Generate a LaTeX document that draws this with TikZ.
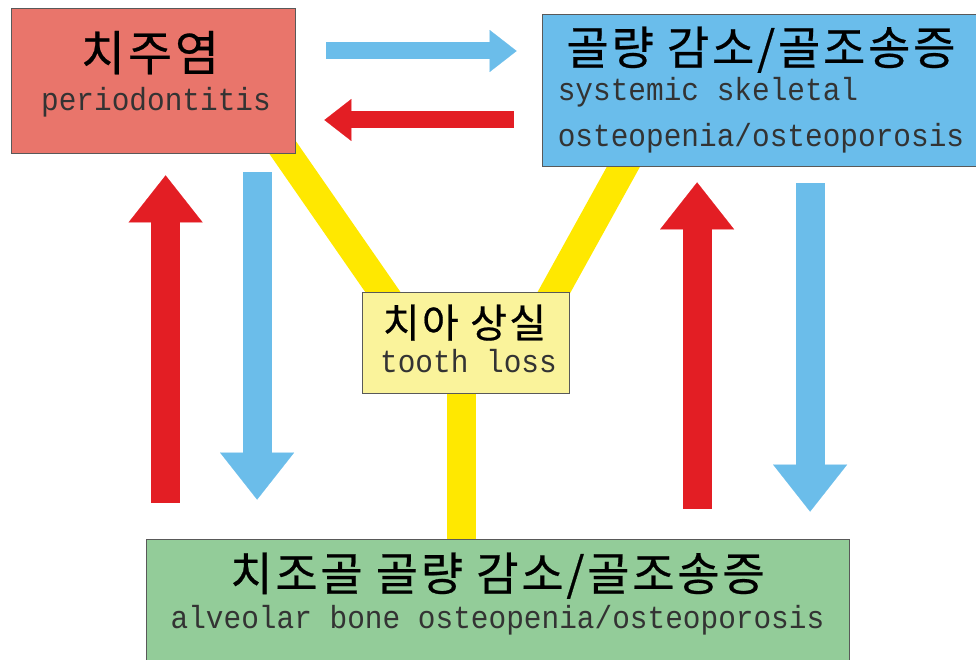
\documentclass[tikz,border=0pt]{standalone}
\usepackage{fontspec}
\usepackage{tikz}
\usetikzlibrary{arrows.meta,calc,backgrounds}
\newfontfamily\kor{Noto Sans CJK KR}[FakeBold=0.5,LetterSpace=6]
\newfontfamily\enmono{Liberation Mono}[FakeStretch=0.92]
\definecolor{cPerio}{HTML}{E9756B}
\definecolor{cSys}{HTML}{6ABDEB}
\definecolor{cTooth}{HTML}{FAF39B}
\definecolor{cAlv}{HTML}{93CC99}
\definecolor{cBand}{HTML}{FFE800}
\definecolor{cRed}{HTML}{E31E24}
\definecolor{cBlue}{HTML}{6BBDEA}

\begin{document}
\begin{tikzpicture}[x=1pt,y=-1pt,
box/.style={draw=black!65,line width=0.8pt,inner sep=0pt},
kr/.style={font=\kor\fontsize{46}{52}\selectfont,anchor=base,inner sep=0pt},
en/.style={font=\enmono\fontsize{32}{36}\selectfont,text=black!80,anchor=base,inner sep=0pt},
band/.style={draw=cBand,line width=29pt},
fat/.style={line width=29pt,-{Triangle[width=74pt,length=47pt,line width=0.1pt]}},
slim/.style={line width=17pt,-{Triangle[width=42pt,length=27pt,line width=0.1pt]}}]
\useasboundingbox (0,0) rectangle (976,660);
\node[box,fill=cPerio,minimum width=284pt,minimum height=145pt] (perio) at (153,80.5) {};
\node[box,fill=cSys,minimum width=438pt,minimum height=152pt] (sys) at (761,90) {};
\node[box,fill=cTooth,minimum width=207pt,minimum height=101pt] (tooth) at (465.5,342.5) {};
\node[box,fill=cAlv,minimum width=703pt,minimum height=141pt] (alv) at (497.5,609.5) {};
% texts
\node[kr,font=\kor\fontsize{48}{54}\selectfont] (perio-kr) at ([xshift=-3pt,yshift=-63pt]perio.north) {치주염};
\node[en] (perio-en) at ([xshift=3pt,yshift=-103pt]perio.north) {periodontitis};
\node[kr] (sys-kr) at ([yshift=-51pt]sys.north) {골량 감소/골조송증};
\node[en,anchor=base west] (sys-en1) at ([xshift=16pt,yshift=-87pt]sys.north west) {systemic skeletal};
\node[en,anchor=base west] (sys-en2) at ([xshift=16pt,yshift=-133pt]sys.north west) {osteopenia/osteoporosis};
\node[kr,font=\kor\fontsize{40}{46}\selectfont] (tooth-kr) at ([xshift=-1pt,yshift=-46pt]tooth.north) {치아 상실};
\node[en] (tooth-en) at ([xshift=3pt,yshift=-81pt]tooth.north) {tooth loss};
\node[kr] (alv-kr) at ([yshift=-52pt]alv.north) {치조골 골량 감소/골조송증};
\node[en] (alv-en) at ([yshift=-90pt]alv.north) {alveolar bone osteopenia/osteoporosis};
% yellow bands behind the boxes
\begin{scope}[on background layer]
\draw[band] ($(perio.south west)+(262.6,-19.5)$) -- ($(tooth.north west)+(32.4,16.5)$);
\draw[band] ($(sys.south west)+(91.7,-17.5)$) -- ($(tooth.north east)+(-24.7,17.5)$);
\draw[band] ([xshift=-4pt]tooth.center) -- ([xshift=-4pt]tooth.center |- alv.center);
\end{scope}
% arrows
\draw[slim,draw=cBlue] ($(perio.east)+(31,-29.5)$) -- ($(sys.west)+(-25,-39)$);
\draw[slim,draw=cRed] ($(sys.west)+(-28,30)$) -- ($(perio.east)+(29,39.5)$);
\draw[fat,draw=cRed] ($(alv.north west)+(20,-36)$) -- ($(perio.south west)+(155,22)$);
\draw[fat,draw=cBlue] ($(perio.south west)+(246.5,19)$) -- ($(alv.north west)+(111.5,-39)$);
\draw[fat,draw=cRed] ($(alv.north west)+(551.5,-30)$) -- ($(sys.south west)+(155.5,16)$);
\draw[fat,draw=cBlue] ($(sys.south west)+(268.5,17)$) -- ($(alv.north west)+(664.5,-27)$);
\end{tikzpicture}
\end{document}
